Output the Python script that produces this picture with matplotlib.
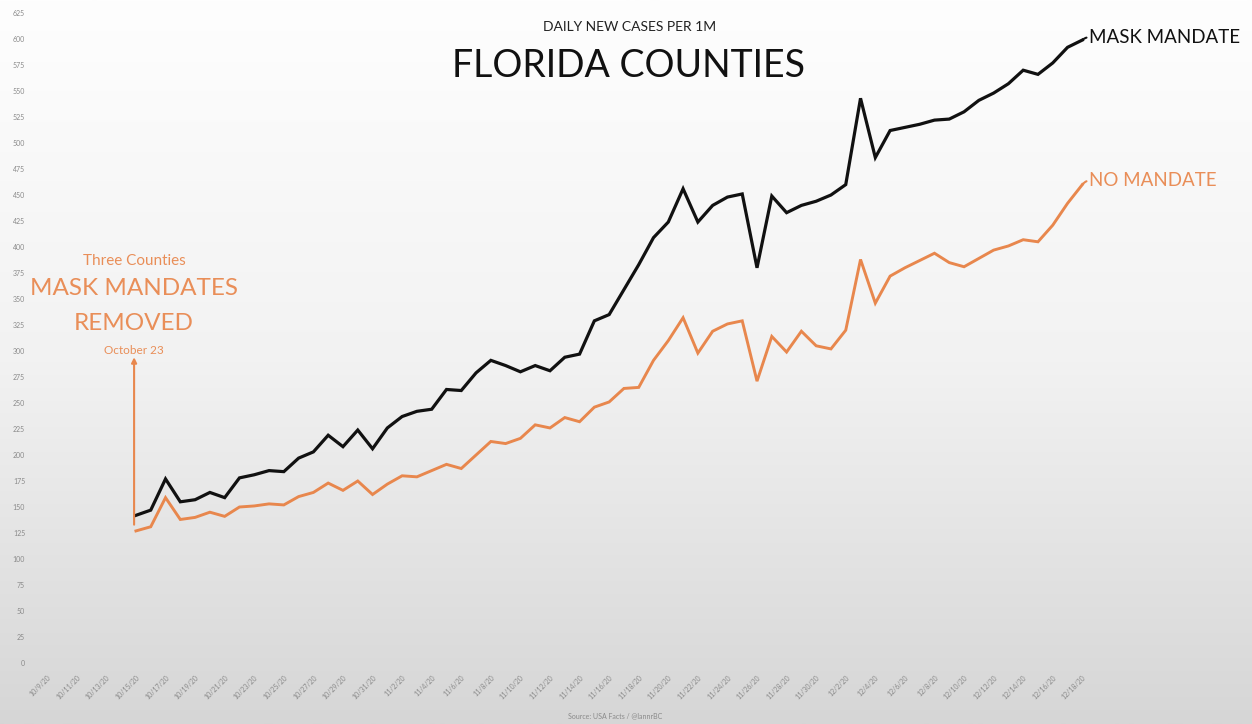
import numpy as np
import pandas as pd
import matplotlib
matplotlib.use('Agg')
import matplotlib.pyplot as plt

plt.rcParams['font.family'] = ['Lato', 'DejaVu Sans']

# daily dates of the two series (10/15/20 - 12/18/20)
dates = pd.date_range('2020-10-15', '2020-12-18', freq='D')

mask_mandate = [142, 147, 177, 155, 157, 164, 159, 178, 181, 185,
                184, 197, 203, 219, 208, 224, 206, 226, 237, 242,
                244, 263, 262, 279, 291, 286, 280, 286, 281, 294,
                297, 329, 335, 359, 383, 409, 424, 456, 424, 440,
                448, 451, 380, 449, 433, 440, 444, 450, 460, 543,
                486, 512, 515, 518, 522, 523, 530, 541, 548, 557,
                570, 566, 577, 592, 599]

no_mandate = [127, 131, 159, 138, 140, 145, 141, 150, 151, 153,
              152, 160, 164, 173, 166, 175, 162, 172, 180, 179,
              185, 191, 187, 200, 213, 211, 216, 229, 226, 236,
              232, 246, 251, 264, 265, 291, 310, 332, 298, 319,
              326, 329, 271, 314, 299, 319, 305, 302, 320, 388,
              346, 372, 380, 387, 394, 385, 381, 389, 397, 401,
              407, 405, 421, 442, 460]

tick_dates = pd.date_range('2020-10-09', '2020-12-18', freq='2D')
tick_labels = [f'{d.month}/{d.day}/20' for d in tick_dates]

black = '#111111'
orange = '#E8874D'
text_orange = '#E98E58'

fig = plt.figure(figsize=(12.52, 7.24), dpi=100)

# background gradient
bg = fig.add_axes([0, 0, 1, 1], zorder=0)
grad = np.linspace(0, 1, 256).reshape(-1, 1)
bg.imshow(grad, aspect='auto', cmap=matplotlib.colors.LinearSegmentedColormap.from_list(
    'bg', ['#fefefe', '#f2f2f2', '#d6d6d6']), extent=(0, 1, 0, 1))
bg.axis('off')

ax = fig.add_axes([28 / 1252, 61 / 724, 1217 / 1252, 650 / 724], zorder=1)
ax.patch.set_alpha(0)

ax.plot(dates, mask_mandate, color=black, lw=2.3, solid_joinstyle='miter')
ax.plot(dates, no_mandate, color=orange, lw=2.1, solid_joinstyle='miter')

t0 = pd.Timestamp('2020-10-09')
ax.set_xlim(t0 - pd.Timedelta(days=1.3), t0 + pd.Timedelta(days=81))
ax.set_ylim(0, 625)
ax.set_yticks(np.arange(0, 626, 25))
ax.set_yticklabels([str(v) for v in range(0, 626, 25)], fontsize=5, color='#8a8a8a')
ax.set_xticks(tick_dates)
ax.set_xticklabels(tick_labels, fontsize=5, color='#8a8a8a', rotation=45,
                   ha='right', va='top', rotation_mode='anchor')
ax.tick_params(length=0, axis='y', pad=2)
ax.tick_params(length=0, axis='x', pad=8)
for s in ax.spines.values():
    s.set_visible(False)

# line-end labels
ax.annotate('MASK MANDATE', xy=(dates[-1], mask_mandate[-1]),
            xytext=(5, 2), textcoords='offset points', fontsize=13.5,
            color=black, va='center', ha='left',
            arrowprops=dict(arrowstyle='-', color=black, lw=1.5,
                            relpos=(0, 0.5),
                            connectionstyle='arc3,rad=0.2',
                            shrinkA=0, shrinkB=0))
ax.annotate('NO MANDATE', xy=(dates[-1], no_mandate[-1]),
            xytext=(5, 3), textcoords='offset points', fontsize=13.5,
            color=text_orange, va='center', ha='left',
            arrowprops=dict(arrowstyle='-', color=orange, lw=1.5,
                            relpos=(0, 0.5),
                            connectionstyle='arc3,rad=0.2',
                            shrinkA=0, shrinkB=0))

# mandate-removal marker
x_mark = dates[0] - pd.Timedelta(hours=3)
ax.annotate('', xy=(x_mark, 294), xytext=(x_mark, 133),
            arrowprops=dict(arrowstyle='-|>,head_length=0.3,head_width=0.15',
                            color=orange, lw=1.5, shrinkA=0, shrinkB=0))
ax.text(x_mark, 387, 'Three Counties', fontsize=11, color=text_orange,
        ha='center', va='center')
ax.text(x_mark, 360, 'MASK MANDATES', fontsize=17.5, color=text_orange,
        ha='center', va='center')
ax.text(x_mark, 326, 'REMOVED', fontsize=17.5, color=text_orange,
        ha='center', va='center')
ax.text(x_mark, 300, 'October 23', fontsize=8.5, color=text_orange,
        ha='center', va='center')

fig.text(630 / 1252, 1 - 27 / 724, 'DAILY NEW CASES PER 1M', fontsize=10,
         color='#222222', ha='center', va='center', zorder=2)
fig.text(628 / 1252, 1 - 66 / 724, 'FLORIDA COUNTIES', fontsize=27,
         color='#111111', ha='center', va='center', zorder=2)
fig.text(615 / 1252, 1 - 716 / 724, 'Source: USA Facts / @lannrBC',
         fontsize=5, color='#8a8a8a', ha='center', va='center', zorder=2)

fig.savefig('out.png', dpi=100)
